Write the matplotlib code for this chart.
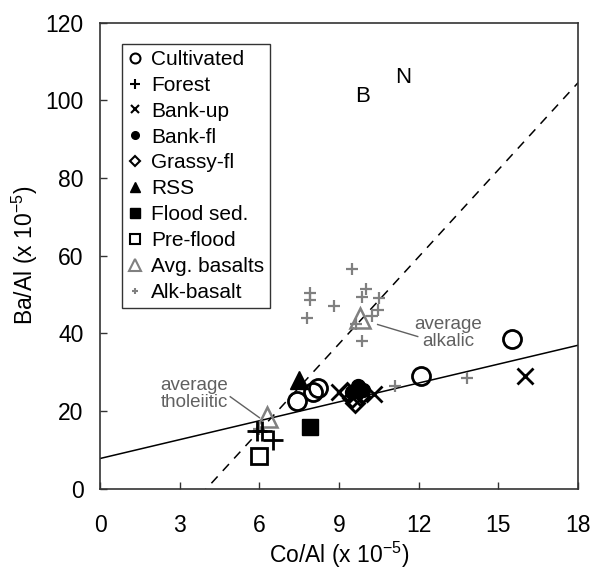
import numpy as np
import matplotlib
matplotlib.use("Agg")
import matplotlib.pyplot as plt

plt.rcParams['font.family'] = ['Liberation Sans', 'DejaVu Sans']

# Data (x = Co/Al, y = Ba/Al, both x 10^-5)
cult_x = [7.4, 8.0, 8.2, 12.1, 15.5]
cult_y = [22.5, 25.0, 26.0, 29.0, 38.5]
forest_x = [5.9, 6.1, 6.5]
forest_y = [15.0, 15.0, 12.5]
bankup_x = [9.0, 9.6, 10.3, 16.0]
bankup_y = [25.0, 24.0, 24.5, 29.0]
bankfl_x = [9.5, 9.7, 9.9]
bankfl_y = [25.0, 26.5, 25.5]
grassy_x = [9.3, 9.5, 9.6, 9.8]
grassy_y = [25.0, 23.5, 22.0, 24.0]
rss_x = [7.5]
rss_y = [28.0]
flood_x = [7.9]
flood_y = [16.0]
preflood_x = [6.0]
preflood_y = [8.5]
avgbas_x = [6.3, 9.8]
avgbas_y = [18.5, 44.0]
alk_x = [9.5, 7.9, 7.9, 8.8, 10.0, 9.85, 7.8, 10.5, 10.45, 10.25, 9.65, 9.85, 11.1, 13.8, 6.0]
alk_y = [56.5, 50.5, 48.5, 47.0, 51.5, 49.5, 44.0, 49.0, 46.0, 44.5, 42.5, 38.0, 26.5, 28.5, 15.5]

# regression / reference lines
solid_a, solid_b = 7.8, 1.62
dash_x0, dash_k = 4.0, 7.47

fig = plt.figure(figsize=(5.96, 5.69), dpi=100)
ax = fig.add_axes([0.168, 0.141, 0.802, 0.819])

xs = np.array([0, 18])
ax.plot(xs, solid_a + solid_b * xs, color='black', lw=1.1, zorder=1)
ax.plot(xs, dash_k * (xs - dash_x0), color='black', lw=1.1, ls=(0, (6, 5)), zorder=1)

gray = '#808080'
ax.plot(alk_x, alk_y, '+', color=gray, ms=9, mew=1.6, ls='none', label='Alk-basalt', zorder=2)
ax.plot(avgbas_x, avgbas_y, '^', mfc='none', mec=gray, ms=15, mew=1.8, ls='none', label='Avg. basalts', zorder=3)
ax.plot(cult_x, cult_y, 'o', mfc='none', mec='black', ms=13, mew=2.0, ls='none', label='Cultivated', zorder=4)
ax.plot(forest_x, forest_y, '+', color='black', ms=14, mew=2.0, ls='none', label='Forest', zorder=4)
ax.plot(bankup_x, bankup_y, 'x', color='black', ms=11, mew=2.0, ls='none', label='Bank-up', zorder=4)
ax.plot(bankfl_x, bankfl_y, 'o', color='black', ms=10, ls='none', label='Bank-fl', zorder=4)
ax.plot(grassy_x, grassy_y, 'D', mfc='none', mec='black', ms=9, mew=2.0, ls='none', label='Grassy-fl', zorder=4)
ax.plot(rss_x, rss_y, '^', color='black', ms=13, ls='none', label='RSS', zorder=4)
ax.plot(flood_x, flood_y, 's', color='black', ms=12, ls='none', label='Flood sed.', zorder=4)
ax.plot(preflood_x, preflood_y, 's', mfc='none', mec='black', ms=12, mew=2.0, ls='none', label='Pre-flood', zorder=4)

# annotations
ax.text(3.55, 24.5, 'average\ntholeiitic', color='#606060', fontsize=13.5, ha='center', va='center',
        linespacing=1.0)
ax.plot([4.9, 6.0], [23.7, 18.3], color='#606060', lw=1.0)
ax.text(13.1, 40.0, 'average\nalkalic', color='#606060', fontsize=13.5, ha='center', va='center',
        linespacing=1.0)
ax.plot([10.45, 11.96], [42.3, 39.2], color='#606060', lw=1.0)
ax.text(9.9, 101, 'B', fontsize=16, ha='center', va='center')
ax.text(11.4, 106, 'N', fontsize=16, ha='center', va='center')

order = ['Cultivated', 'Forest', 'Bank-up', 'Bank-fl', 'Grassy-fl', 'RSS',
         'Flood sed.', 'Pre-flood', 'Avg. basalts', 'Alk-basalt']
handles, labels = ax.get_legend_handles_labels()
hmap = dict(zip(labels, handles))
leg = ax.legend([hmap[k] for k in order], order, loc='upper left', bbox_to_anchor=(0.045, 0.955),
                fontsize=15, markerscale=0.55, handlelength=0.7, handletextpad=0.4,
                labelspacing=0.33, borderpad=0.3, fancybox=False, framealpha=1,
                edgecolor='#333333', borderaxespad=0)
leg.get_frame().set_linewidth(1.0)
for h in leg.legend_handles:
    h.set_markeredgewidth(min(h.get_markeredgewidth(), 1.5))

ax.set_xlim(0, 18)
ax.set_ylim(0, 120)
ax.set_xticks(range(0, 19, 3))
ax.set_yticks(range(0, 121, 20))
ax.tick_params(direction='in', length=5, width=1.0, labelsize=16.5, colors='#333333',
               labelcolor='black')
ax.tick_params(axis='x', pad=18)
ax.tick_params(axis='y', pad=12)
for s in ax.spines.values():
    s.set_linewidth(1.2)
    s.set_color('#333333')

ax.set_xlabel('Co/Al (x 10$^{\\mathregular{-5}}$)', fontsize=16.5, labelpad=2)
ax.set_ylabel('Ba/Al (x 10$^{\\mathregular{-5}}$)', fontsize=16.5, labelpad=4)

fig.savefig('out.png', dpi=100)
